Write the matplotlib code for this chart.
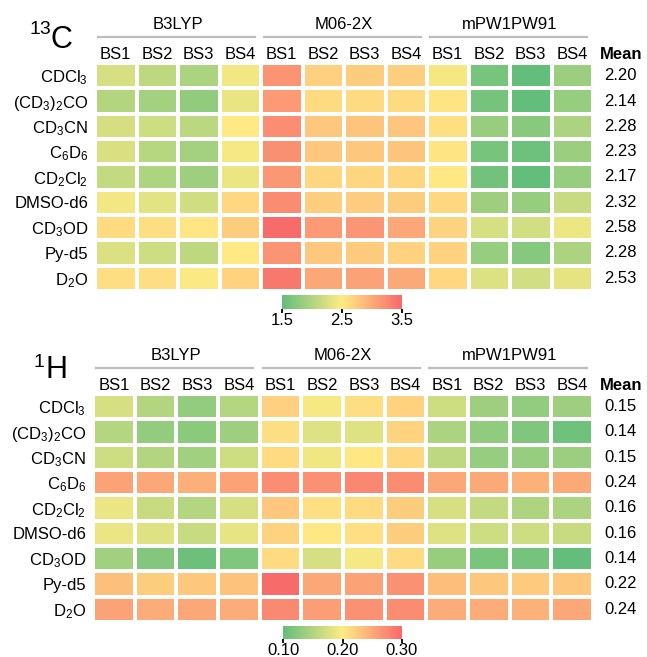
import numpy as np
import matplotlib
matplotlib.use("Agg")
import matplotlib.pyplot as plt
import matplotlib.transforms as mtrans
from matplotlib.colors import LinearSegmentedColormap

plt.rcParams['font.family'] = ['Liberation Sans', 'DejaVu Sans']
plt.rcParams['mathtext.default'] = 'regular'

# data
solvents = [r'CDCl$_3$', r'(CD$_3$)$_2$CO', r'CD$_3$CN', r'C$_6$D$_6$', r'CD$_2$Cl$_2$',
            'DMSO-d6', r'CD$_3$OD', 'Py-d5', r'D$_2$O']
functionals = ['B3LYP', 'M06-2X', 'mPW1PW91']
basis_sets = ['BS1', 'BS2', 'BS3', 'BS4']

c13 = np.array([
    [2.24, 2.08, 1.97, 2.42, 3.17, 2.71, 2.73, 2.72, 2.43, 1.63, 1.51, 1.86],
    [2.02, 1.92, 1.80, 2.36, 3.12, 2.63, 2.63, 2.63, 2.55, 1.62, 1.50, 1.83],
    [2.23, 2.18, 2.07, 2.51, 3.22, 2.78, 2.80, 2.79, 2.58, 1.84, 1.74, 1.97],
    [2.26, 2.04, 1.92, 2.44, 3.20, 2.77, 2.78, 2.80, 2.55, 1.63, 1.57, 1.86],
    [2.12, 1.99, 1.87, 2.37, 3.14, 2.65, 2.66, 2.66, 2.52, 1.60, 1.50, 1.83],
    [2.42, 2.32, 2.20, 2.65, 3.23, 2.72, 2.74, 2.73, 2.65, 1.89, 1.83, 2.15],
    [2.63, 2.60, 2.54, 2.73, 3.48, 3.12, 3.15, 3.02, 2.68, 2.24, 2.21, 2.38],
    [2.27, 2.18, 2.08, 2.51, 3.17, 2.77, 2.75, 2.69, 2.69, 1.83, 1.73, 1.97],
    [2.60, 2.60, 2.47, 2.69, 3.38, 3.02, 3.05, 3.00, 2.65, 2.28, 2.21, 2.33],
])
c13_mean = [2.20, 2.14, 2.28, 2.23, 2.17, 2.32, 2.58, 2.28, 2.53]

h1 = np.array([
    [0.174, 0.152, 0.131, 0.153, 0.221, 0.194, 0.210, 0.219, 0.168, 0.139, 0.131, 0.137],
    [0.153, 0.131, 0.126, 0.137, 0.210, 0.179, 0.179, 0.218, 0.147, 0.129, 0.119, 0.108],
    [0.168, 0.152, 0.140, 0.168, 0.212, 0.190, 0.202, 0.215, 0.158, 0.133, 0.133, 0.136],
    [0.256, 0.252, 0.246, 0.256, 0.272, 0.269, 0.277, 0.273, 0.252, 0.250, 0.244, 0.250],
    [0.187, 0.165, 0.153, 0.174, 0.227, 0.208, 0.213, 0.223, 0.174, 0.162, 0.149, 0.147],
    [0.187, 0.179, 0.165, 0.185, 0.218, 0.202, 0.208, 0.223, 0.179, 0.168, 0.168, 0.165],
    [0.140, 0.120, 0.106, 0.119, 0.212, 0.174, 0.194, 0.212, 0.134, 0.115, 0.112, 0.101],
    [0.233, 0.223, 0.227, 0.231, 0.298, 0.252, 0.256, 0.269, 0.235, 0.227, 0.225, 0.228],
    [0.256, 0.248, 0.252, 0.248, 0.275, 0.259, 0.269, 0.273, 0.248, 0.248, 0.244, 0.252],
])
h1_mean = [0.15, 0.14, 0.15, 0.24, 0.16, 0.16, 0.14, 0.22, 0.24]

cmap = LinearSegmentedColormap.from_list('gyr', ['#63BE7B', '#FFEB84', '#F8696B'])

W, H = 647, 657
fig = plt.figure(figsize=(W / 100, H / 100), dpi=100)
FS = 12


def px_box(x0, y0, x1, y1):
    return [x0 / W, 1 - y1 / H, (x1 - x0) / W, (y1 - y0) / H]


def draw_panel(box, cbox, data, means, vmin, vmax, ticks, cfmt, sup, nuc, tpos):
    ax = fig.add_axes(px_box(*box))
    mesh = ax.pcolormesh(data, cmap=cmap, vmin=vmin, vmax=vmax,
                         edgecolors='white', linewidth=1.6)
    ax.set_xlim(0, data.shape[1])
    ax.set_ylim(data.shape[0], 0)
    for s in ax.spines.values():
        s.set_visible(False)
    ax.set_xticks([])
    ax.set_yticks(np.arange(len(solvents)) + 0.5)
    ax.set_yticklabels(solvents, fontsize=FS)
    ax.tick_params(axis='y', length=0, pad=5)

    tr = mtrans.blended_transform_factory(ax.transData, ax.transAxes)
    for g, name in enumerate(functionals):
        ax.text(g * 4 + 2, 1.171, name, transform=tr, ha='center', va='center',
                fontsize=FS)
        ax.plot([g * 4 + 0.07, g * 4 + 3.85], [1.112, 1.112], transform=tr,
                color='#bdbdbd', lw=1.6, clip_on=False)
        for b, bs in enumerate(basis_sets):
            ax.text(g * 4 + b + 0.5, 1.039, bs, transform=tr, ha='center',
                    va='center', fontsize=FS)
    ax.text(12.67, 1.039, 'Mean', transform=tr, ha='center', va='center',
            fontsize=FS, fontweight='bold')
    for i, m in enumerate(means):
        ax.text(12.67, i + 0.5, '%.2f' % m, ha='center', va='center', fontsize=FS)

    # nucleus label
    fig.text(tpos[0] / W, 1 - tpos[1] / H, sup, ha='right', va='top', fontsize=14)
    fig.text(tpos[2] / W, 1 - tpos[3] / H, nuc, ha='left', va='baseline', fontsize=22)

    cax = fig.add_axes(px_box(*cbox))
    cb = fig.colorbar(mesh, cax=cax, orientation='horizontal', ticks=ticks)
    cb.outline.set_visible(False)
    cb.set_ticklabels([cfmt % t for t in ticks])
    cax.tick_params(length=3, width=1.3, color='black', labelsize=FS, pad=0)


draw_panel((95, 63, 593, 291), (282, 295, 402, 309), c13, c13_mean, 1.5, 3.5,
           [1.5, 2.5, 3.5], '%.1f', '13', 'C', (51, 21, 51, 48))
draw_panel((93, 394, 593, 622), (283, 626, 402, 639), h1, h1_mean, 0.10, 0.30,
           [0.10, 0.20, 0.30], '%.2f', '1', 'H', (44, 354, 46, 378))

fig.savefig('out.png', dpi=100)
